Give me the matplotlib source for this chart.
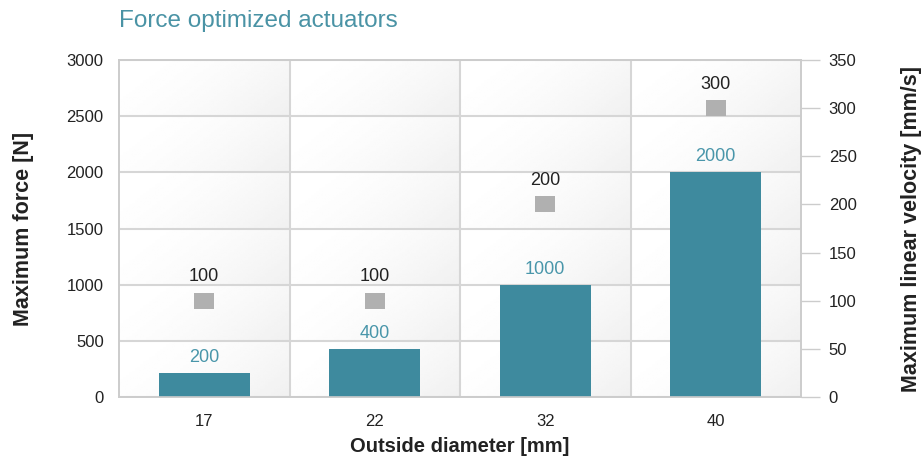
import numpy as np
import matplotlib
matplotlib.use('Agg')
import matplotlib.pyplot as plt

plt.rcParams['font.family'] = ['Liberation Sans', 'DejaVu Sans']

# data
diameters = ['17', '22', '32', '40']
force = [212, 425, 1000, 2000]           # bar heights as drawn
force_labels = ['200', '400', '1000', '2000']
velocity = [100, 100, 200, 300]

teal = '#3e8a9e'
teal_txt = '#4996aa'
grid_c = '#d6d6d6'

fig = plt.figure(figsize=(9.21, 4.63), dpi=100)
ax = fig.add_axes([119/921, 66/463, 682/921, 337/463])
ax2 = ax.twinx()

x = np.arange(len(diameters))

# gradient background, one tile per grid cell (white top-left -> light grey bottom-right)
u, v = np.meshgrid(np.linspace(0, 1, 60), np.linspace(0, 1, 40))
cell = 255 - 15 * (0.7 * u + 0.3 * v) ** 1.8
img = np.tile(cell, (6, 4)) / 255.0
ax.imshow(img, cmap='gray', vmin=0, vmax=1, extent=(-0.5, 3.5, 0, 3000),
          aspect='auto', interpolation='bilinear', zorder=0)

ax.set_xlim(-0.5, 3.5)
ax.set_ylim(0, 3000)
ax.set_yticks(np.arange(0, 3001, 500))
ax.yaxis.grid(True, color=grid_c, lw=1.5, zorder=1)
ax.set_axisbelow(True)
for b in [0.5, 1.5, 2.5]:
    ax.axvline(b, color=grid_c, lw=1.5, zorder=1)

ax.bar(x, force, width=0.535, color=teal, zorder=3)
for xi, f, lab in zip(x, force, force_labels):
    ax.annotate(lab, (xi, f), xytext=(0, 5), textcoords='offset points',
                ha='center', va='bottom', color=teal_txt, fontsize=13)

ax2.set_ylim(0, 350)
ax2.set_yticks(np.arange(0, 351, 50))
sq = [(-1.3, -1), (1.3, -1), (1.3, 1), (-1.3, 1)]
ax2.scatter(x, velocity, marker=sq, s=15**2, color='#b0b0b0', zorder=4, linewidths=0)
for xi, vv in zip(x, velocity):
    ax2.annotate(str(vv), (xi, vv), xytext=(0, 11), textcoords='offset points',
                 ha='center', va='bottom', color='#222222', fontsize=13)

# ticks and spines
ax.set_xticks(x)
ax.set_xticklabels(diameters)
ax.tick_params(axis='x', length=0, pad=12, labelsize=12, colors='#222222')
ax.tick_params(axis='y', length=0, pad=11, labelsize=12, colors='#222222')
ax2.tick_params(axis='y', length=14, width=1, color='#cccccc', pad=6,
                labelsize=12, labelcolor='#222222')
for a in (ax, ax2):
    for s in a.spines.values():
        s.set_color('#cccccc')
        s.set_linewidth(1.2)

ax.set_xlabel('Outside diameter [mm]', fontsize=14.5, fontweight='bold', color='#222222')
ax.xaxis.set_label_coords(0.5, -0.12)
ax.set_ylabel('Maximum force [N]', fontsize=15.5, fontweight='bold', color='#222222', va='center')
ax.yaxis.set_label_coords(-0.14, 0.5)
ax2.set_ylabel('Maximum linear velocity [mm/s]', fontsize=15.5, fontweight='bold',
               color='#222222', va='center')
ax2.yaxis.set_label_coords(1.162, 0.5)

ax.set_title('Force optimized actuators', loc='left', pad=24, fontsize=17.5, color='#4a93a5')

fig.savefig('out.png', dpi=100)
